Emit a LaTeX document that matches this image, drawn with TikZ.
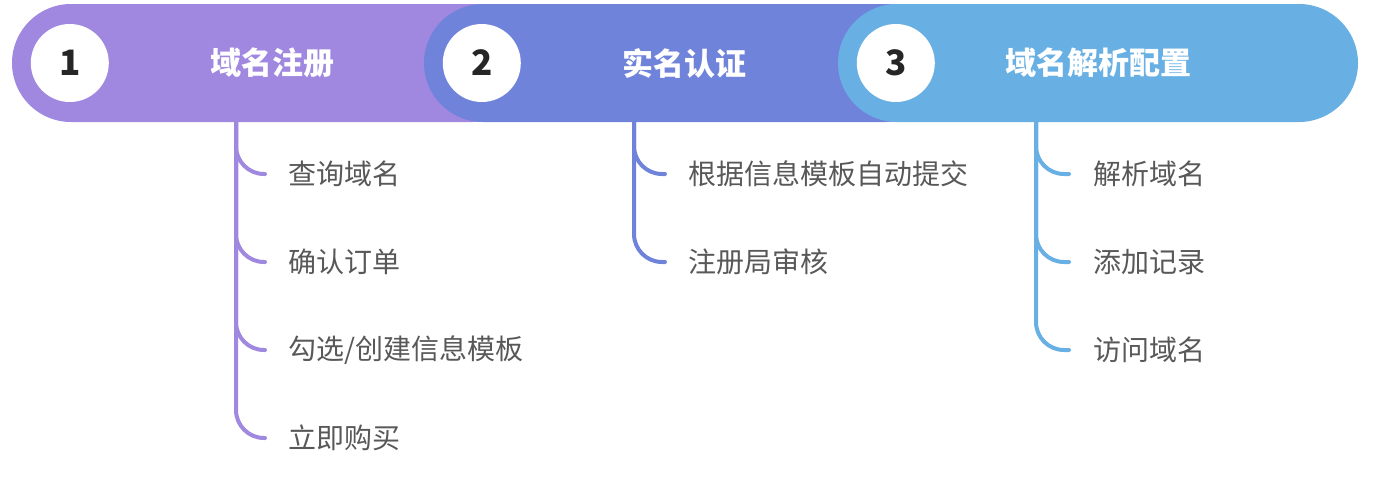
\documentclass[tikz,border=0pt]{standalone}
\usepackage{fontspec}
\setmainfont{Noto Sans CJK SC}
\usetikzlibrary{positioning,calc}
\definecolor{stepone}{RGB}{160,136,224}
\definecolor{steptwo}{RGB}{112,131,218}
\definecolor{stepthree}{RGB}{104,176,228}
\definecolor{itemgray}{RGB}{88,88,88}

\begin{document}
\begin{tikzpicture}[
  x=1pt, y=-1pt,
  pill/.style={
    fill=#1,
    rounded corners=59pt,
    minimum width=520pt,
    minimum height=118pt,
    inner sep=0pt,
    text=white,
    font=\fontsize{31}{36}\selectfont\bfseries
  },
  numdot/.style={
    circle,
    fill=white,
    minimum size=78pt,
    inner sep=0pt,
    text=black!85,
    font=\fontsize{35}{40}\selectfont\bfseries
  },
  stem/.style={
    draw=#1,
    line width=4pt,
    line cap=round,
    rounded corners=28pt
  },
  item/.style={
    anchor=west,
    inner sep=0pt,
    text=itemgray,
    font=\fontsize{28}{32}\selectfont
  }
]

\useasboundingbox (0,0) rectangle (1374,479);

% Stage 1: items and stem
\coordinate (s1) at (236,122);
\node[item] (a1) at (288,174) {查询域名};
\node[item] (a2) at (288,262) {确认订单};
\node[item] (a3) at (288,350) {勾选/创建信息模板};
\node[item] (a4) at (288,438) {立即购买};
\foreach \i in {a1,a2,a3,a4}
  \draw[stem=stepone] (s1) |- ([xshift=-23pt]\i.west);

% Stage 2: items and stem
\coordinate (s2) at (634,122);
\node[item] (b1) at (688,174) {根据信息模板自动提交};
\node[item] (b2) at (688,262) {注册局审核};
\foreach \i in {b1,b2}
  \draw[stem=steptwo] (s2) |- ([xshift=-23pt]\i.west);

% Stage 3: items and stem
\coordinate (s3) at (1036,122);
\node[item] (c1) at (1093,174) {解析域名};
\node[item] (c2) at (1093,262) {添加记录};
\node[item] (c3) at (1093,350) {访问域名};
\foreach \i in {c1,c2,c3}
  \draw[stem=stepthree] (s3) |- ([xshift=-24pt]\i.west);

% Header pills, each one over the one before
\node[pill=stepone] (p1) at (272,63) {域名注册};
\node[numdot] (n1) at ([xshift=58pt]p1.west) {1};

\node[pill=steptwo] (p2) at (684,63) {实名认证};
\node[numdot] (n2) at ([xshift=58pt]p2.west) {2};

\node[pill=stepthree] (p3) at (1098,63) {域名解析配置};
\node[numdot] (n3) at ([xshift=58pt]p3.west) {3};

\end{tikzpicture}
\end{document}
